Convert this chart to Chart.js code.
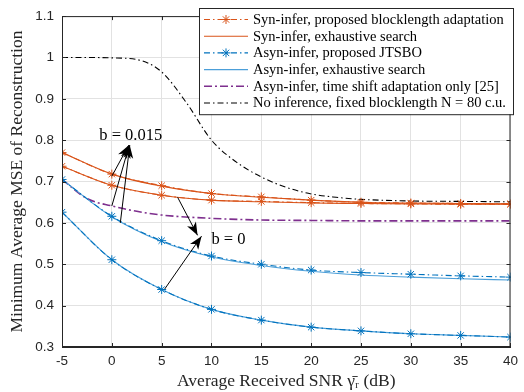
<!DOCTYPE html>
<html>
<head>
<meta charset="utf-8">
<script src="https://cdn.jsdelivr.net/npm/chart.js@4.4.1/dist/chart.umd.min.js"></script>
<style>
html, body { margin: 0; padding: 0; background: #fff; }
#wrap { width: 524px; height: 392px; }
</style>
</head>
<body>
<div id="wrap"><canvas id="chart"></canvas></div>
<script>
// SNR points (dB) where the markers sit
var snr = [-5, 0, 5, 10, 15, 20, 25, 30, 35, 40];

// b = 0.015
var synPropB015  = [0.770, 0.718, 0.690, 0.671, 0.663, 0.655, 0.650, 0.648, 0.647, 0.646];
var synExhB015   = [0.770, 0.718, 0.689, 0.671, 0.662, 0.655, 0.650, 0.648, 0.647, 0.646];
var asynPropB015 = [0.705, 0.616, 0.557, 0.520, 0.500, 0.486, 0.480, 0.476, 0.472, 0.469];
var asynExhB015  = [0.705, 0.615, 0.555, 0.518, 0.497, 0.483, 0.474, 0.469, 0.465, 0.462];

// b = 0
var synPropB0  = [0.737, 0.691, 0.667, 0.655, 0.652, 0.649, 0.647, 0.646, 0.645, 0.645];
var synExhB0   = [0.737, 0.691, 0.667, 0.655, 0.651, 0.648, 0.647, 0.646, 0.645, 0.645];
var asynPropB0 = [0.626, 0.511, 0.439, 0.391, 0.365, 0.348, 0.339, 0.332, 0.328, 0.324];
var asynExhB0  = [0.626, 0.511, 0.439, 0.391, 0.365, 0.348, 0.339, 0.332, 0.328, 0.324];

// time shift adaptation only [25]
var shiftSnr  = [-5, -2.5, 0, 2.5, 5, 10, 15, 20, 25, 30, 35, 40];
var shiftOnly = [0.705, 0.659, 0.641, 0.628, 0.619, 0.611, 0.607, 0.606, 0.605, 0.605, 0.605, 0.605];

// no inference, fixed blocklength N = 80
var fixedSnr = [-5, -2.5, 0, 2.5, 5, 7.5, 10, 12.5, 15, 17.5, 20, 22.5, 25, 30, 35, 40];
var fixedN80 = [1.0, 1.0, 0.999, 0.995, 0.965, 0.89, 0.80, 0.747, 0.711, 0.686, 0.670, 0.662, 0.657, 0.653, 0.652, 0.651];

var xTicks = [-5, 0, 5, 10, 15, 20, 25, 30, 35, 40];
var yTicks = [0.3, 0.4, 0.5, 0.6, 0.7, 0.8, 0.9, 1, 1.1];

var ORANGE = '#D95319', BLUE = '#0072BD', LIGHTBLUE = '#4C9FD9', PURPLE = '#7E2F8E', INK = '#262626';
var DASHDOT = [6, 3, 1.5, 3];

function pts(xs, ys) {
    return xs.map(function (x, i) { return { x: x, y: ys[i] }; });
}

function series(label, xs, ys, color, width, dash, marker, inLegend) {
    return {
        label: label,
        data: pts(xs, ys),
        borderColor: color,
        backgroundColor: color,
        borderWidth: width,
        borderDash: dash,
        pointStyle: 'star',
        pointRadius: marker ? 4.5 : 0,
        pointHoverRadius: 0,
        pointBorderWidth: 1,
        cubicInterpolationMode: 'monotone',
        fill: false,
        inLegend: inLegend
    };
}

var datasets = [
    series('Syn-infer, proposed blocklength adaptation', snr, synPropB015, ORANGE, 1.1, DASHDOT, true, true),
    series('Syn-infer, exhaustive search', snr, synExhB015, ORANGE, 1.1, [], false, true),
    series('Asyn-infer, proposed JTSBO', snr, asynPropB015, BLUE, 1.1, DASHDOT, true, true),
    series('Asyn-infer, exhaustive search', snr, asynExhB015, LIGHTBLUE, 1.1, [], false, true),
    series('Asyn-infer, time shift adaptation only [25]', shiftSnr, shiftOnly, PURPLE, 1.6, [8, 3, 2, 3], false, true),
    series('No inference, fixed blocklength N = 80 c.u.', fixedSnr, fixedN80, '#000000', 1.1, DASHDOT, false, true),
    series('Syn-infer, proposed (b = 0)', snr, synPropB0, ORANGE, 1.1, DASHDOT, true, false),
    series('Syn-infer, exhaustive (b = 0)', snr, synExhB0, ORANGE, 1.1, [], false, false),
    series('Asyn-infer, JTSBO (b = 0)', snr, asynPropB0, BLUE, 1.1, DASHDOT, true, false),
    series('Asyn-infer, exhaustive (b = 0)', snr, asynExhB0, LIGHTBLUE, 1.1, [], false, false)
];

// annotation arrows, in data units (tail -> head)
var notes = [
    { text: 'b = 0.015', x: 1.9, y: 0.811, align: 'center' },
    { text: 'b = 0', x: 10.0, y: 0.560, align: 'left' }
];
var arrows = [
    [0.0, 0.713, 1.7, 0.788],
    [0.0, 0.641, 1.75, 0.788],
    [0.85, 0.600, 1.8, 0.788],
    [6.6, 0.662, 8.6, 0.570],
    [5.3, 0.440, 9.0, 0.568]
];

function star(ctx, x, y, r) {
    ctx.beginPath();
    for (var k = 0; k < 4; k++) {
        var a = k * Math.PI / 4;
        ctx.moveTo(x - r * Math.cos(a), y - r * Math.sin(a));
        ctx.lineTo(x + r * Math.cos(a), y + r * Math.sin(a));
    }
    ctx.stroke();
}

function arrowHead(ctx, x0, y0, x1, y1) {
    var ang = Math.atan2(y1 - y0, x1 - x0);
    var len = 13, half = 5, notch = 3.5;
    var c = Math.cos(ang), s = Math.sin(ang);
    ctx.beginPath();
    ctx.moveTo(x1, y1);
    ctx.lineTo(x1 - len * c + half * s, y1 - len * s - half * c);
    ctx.lineTo(x1 - (len - notch) * c, y1 - (len - notch) * s);
    ctx.lineTo(x1 - len * c - half * s, y1 - len * s + half * c);
    ctx.closePath();
    ctx.fill();
}

var framePlugin = {
    id: 'frame',
    afterDatasetsDraw: function (chart) {
        var ctx = chart.ctx, a = chart.chartArea;
        var xs = chart.scales.x, ys = chart.scales.y;
        ctx.save();
        ctx.strokeStyle = INK;
        ctx.lineWidth = 1;
        ctx.strokeRect(a.left + 0.5, a.top + 0.5, a.right - a.left - 1, a.bottom - a.top - 1);
        ctx.beginPath();
        xTicks.forEach(function (v) {
            var px = Math.round(xs.getPixelForValue(v)) + 0.5;
            ctx.moveTo(px, a.bottom); ctx.lineTo(px, a.bottom - 4);
            ctx.moveTo(px, a.top); ctx.lineTo(px, a.top + 4);
        });
        yTicks.forEach(function (v) {
            var py = Math.round(ys.getPixelForValue(v)) + 0.5;
            ctx.moveTo(a.left, py); ctx.lineTo(a.left + 4, py);
            ctx.moveTo(a.right, py); ctx.lineTo(a.right - 4, py);
        });
        ctx.stroke();

        // arrows and labels
        ctx.strokeStyle = '#000';
        ctx.fillStyle = '#000';
        ctx.lineWidth = 1;
        arrows.forEach(function (ar) {
            var x0 = xs.getPixelForValue(ar[0]), y0 = ys.getPixelForValue(ar[1]);
            var x1 = xs.getPixelForValue(ar[2]), y1 = ys.getPixelForValue(ar[3]);
            ctx.beginPath();
            ctx.moveTo(x0, y0); ctx.lineTo(x1, y1);
            ctx.stroke();
            arrowHead(ctx, x0, y0, x1, y1);
        });
        ctx.font = '16.5px "Liberation Serif"';
        ctx.textBaseline = 'middle';
        notes.forEach(function (n) {
            ctx.textAlign = n.align;
            ctx.fillText(n.text, xs.getPixelForValue(n.x), ys.getPixelForValue(n.y));
        });
        ctx.restore();
    }
};

var boxLegend = {
    id: 'boxLegend',
    afterDraw: function (chart) {
        var ctx = chart.ctx;
        var items = chart.data.datasets.filter(function (d) { return d.inLegend; });
        var left = 199, top = 8, right = 513, rowH = 16.7;
        var bottom = top + 11 + rowH * items.length - 5;
        ctx.save();
        ctx.fillStyle = '#fff';
        ctx.fillRect(left, top, right - left, bottom - top);
        ctx.strokeStyle = INK;
        ctx.lineWidth = 1;
        ctx.strokeRect(left + 0.5, top + 0.5, right - left, bottom - top);
        ctx.font = '14.5px "Liberation Serif"';
        ctx.textBaseline = 'middle';
        ctx.textAlign = 'left';
        items.forEach(function (d, i) {
            var y = top + 11.5 + i * rowH;
            ctx.strokeStyle = d.borderColor;
            ctx.lineWidth = d.borderWidth;
            ctx.setLineDash(d.borderDash);
            ctx.beginPath();
            ctx.moveTo(204, y); ctx.lineTo(248, y);
            ctx.stroke();
            ctx.setLineDash([]);
            if (d.pointRadius > 0) {
                ctx.lineWidth = 1;
                star(ctx, 226, y, 4.5);
            }
            ctx.fillStyle = '#000';
            ctx.fillText(d.label, 253, y + 0.5);
        });
        ctx.restore();
    }
};

var chart = new Chart(document.getElementById('chart').getContext('2d'), {
    type: 'line',
    data: { datasets: datasets },
    options: {
        responsive: true,
        maintainAspectRatio: false,
        animation: false,
        events: [],
        layout: { padding: { left: 1, right: 11, top: 12, bottom: 0 } },
        plugins: { legend: { display: false }, tooltip: { enabled: false } },
        scales: {
            x: {
                type: 'linear',
                min: -5, max: 40,
                afterBuildTicks: function (s) { s.ticks = xTicks.map(function (v) { return { value: v }; }); },
                afterFit: function (s) { s.height = 45; },
                grid: { color: '#e2e2e2', drawTicks: false },
                border: { display: true, color: INK },
                ticks: {
                    padding: 6, color: INK, maxRotation: 0,
                    font: { family: '"Liberation Sans"', size: 13.5 },
                    callback: function (v) { return String(v); }
                },
                title: {
                    display: true, text: 'Average Received SNR γ̄ᵣ (dB)', color: INK,
                    font: { family: '"Liberation Serif"', size: 17.5 },
                    padding: { top: 0, bottom: 0 }
                }
            },
            y: {
                min: 0.3, max: 1.1,
                afterBuildTicks: function (s) { s.ticks = yTicks.map(function (v) { return { value: v }; }); },
                afterFit: function (s) { s.width = 61; },
                grid: { color: '#e2e2e2', drawTicks: false },
                border: { display: true, color: INK },
                ticks: {
                    padding: 8, color: INK,
                    font: { family: '"Liberation Sans"', size: 13.5 },
                    callback: function (v) { return String(Math.round(v * 10) / 10); }
                },
                title: {
                    display: true, text: 'Minimum Average MSE of Reconstruction', color: INK,
                    font: { family: '"Liberation Serif"', size: 17.5 },
                    padding: { top: 6, bottom: 0 }
                }
            }
        }
    },
    plugins: [framePlugin, boxLegend]
});
console.log('chart ready', chart.chartArea);
</script>
</body>
</html>
